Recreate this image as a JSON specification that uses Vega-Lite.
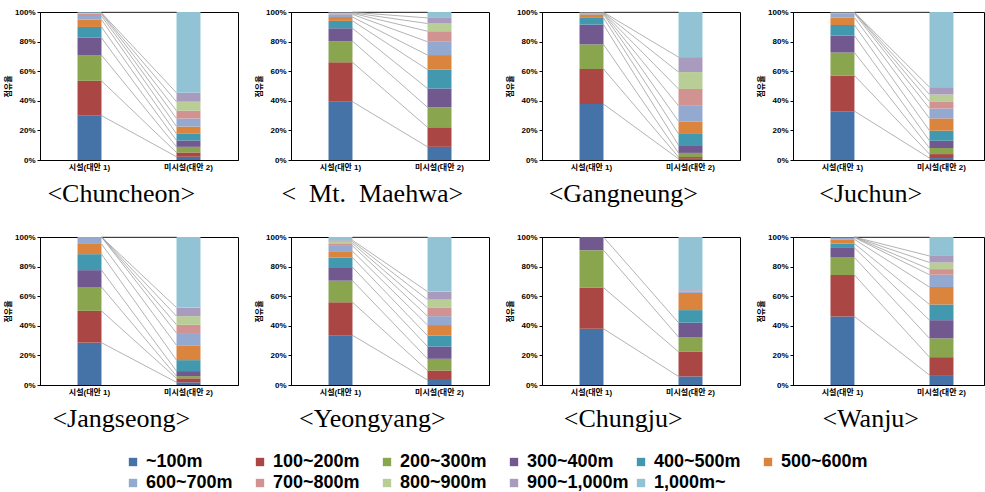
{
"$schema":"https://vega.github.io/schema/vega-lite/v6.json",
"padding":{"left":4,"top":7,"right":0,"bottom":0},
"columns":4,
"align":"each",
"spacing":{"row":24,"column":16},
"data":{"values":[
{"p":"Chuncheon","s":"시설(대안 1)","o":1,"c":"~100m","v":30.0},
{"p":"Chuncheon","s":"시설(대안 1)","o":2,"c":"100~200m","v":23.5},
{"p":"Chuncheon","s":"시설(대안 1)","o":3,"c":"200~300m","v":17.4},
{"p":"Chuncheon","s":"시설(대안 1)","o":4,"c":"300~400m","v":11.7},
{"p":"Chuncheon","s":"시설(대안 1)","o":5,"c":"400~500m","v":7.3},
{"p":"Chuncheon","s":"시설(대안 1)","o":6,"c":"500~600m","v":5.0},
{"p":"Chuncheon","s":"시설(대안 1)","o":7,"c":"600~700m","v":2.4},
{"p":"Chuncheon","s":"시설(대안 1)","o":8,"c":"700~800m","v":1.4},
{"p":"Chuncheon","s":"시설(대안 1)","o":9,"c":"800~900m","v":0.4},
{"p":"Chuncheon","s":"시설(대안 1)","o":10,"c":"900~1,000m","v":0.4},
{"p":"Chuncheon","s":"시설(대안 1)","o":11,"c":"1,000m~","v":0.5},
{"p":"Chuncheon","s":"미시설(대안 2)","o":1,"c":"~100m","v":2.2},
{"p":"Chuncheon","s":"미시설(대안 2)","o":2,"c":"100~200m","v":2.9},
{"p":"Chuncheon","s":"미시설(대안 2)","o":3,"c":"200~300m","v":3.8},
{"p":"Chuncheon","s":"미시설(대안 2)","o":4,"c":"300~400m","v":4.3},
{"p":"Chuncheon","s":"미시설(대안 2)","o":5,"c":"400~500m","v":4.5},
{"p":"Chuncheon","s":"미시설(대안 2)","o":6,"c":"500~600m","v":4.9},
{"p":"Chuncheon","s":"미시설(대안 2)","o":7,"c":"600~700m","v":5.4},
{"p":"Chuncheon","s":"미시설(대안 2)","o":8,"c":"700~800m","v":5.3},
{"p":"Chuncheon","s":"미시설(대안 2)","o":9,"c":"800~900m","v":6.1},
{"p":"Chuncheon","s":"미시설(대안 2)","o":10,"c":"900~1,000m","v":6.0},
{"p":"Chuncheon","s":"미시설(대안 2)","o":11,"c":"1,000m~","v":54.6},
{"p":"Mt. Maehwa","s":"시설(대안 1)","o":1,"c":"~100m","v":39.4},
{"p":"Mt. Maehwa","s":"시설(대안 1)","o":2,"c":"100~200m","v":26.6},
{"p":"Mt. Maehwa","s":"시설(대안 1)","o":3,"c":"200~300m","v":14.3},
{"p":"Mt. Maehwa","s":"시설(대안 1)","o":4,"c":"300~400m","v":8.7},
{"p":"Mt. Maehwa","s":"시설(대안 1)","o":5,"c":"400~500m","v":5.0},
{"p":"Mt. Maehwa","s":"시설(대안 1)","o":6,"c":"500~600m","v":2.6},
{"p":"Mt. Maehwa","s":"시설(대안 1)","o":7,"c":"600~700m","v":1.8},
{"p":"Mt. Maehwa","s":"시설(대안 1)","o":8,"c":"700~800m","v":0.7},
{"p":"Mt. Maehwa","s":"시설(대안 1)","o":9,"c":"800~900m","v":0.4},
{"p":"Mt. Maehwa","s":"시설(대안 1)","o":10,"c":"900~1,000m","v":0.3},
{"p":"Mt. Maehwa","s":"시설(대안 1)","o":11,"c":"1,000m~","v":0.2},
{"p":"Mt. Maehwa","s":"미시설(대안 2)","o":1,"c":"~100m","v":8.9},
{"p":"Mt. Maehwa","s":"미시설(대안 2)","o":2,"c":"100~200m","v":13.2},
{"p":"Mt. Maehwa","s":"미시설(대안 2)","o":3,"c":"200~300m","v":13.5},
{"p":"Mt. Maehwa","s":"미시설(대안 2)","o":4,"c":"300~400m","v":12.7},
{"p":"Mt. Maehwa","s":"미시설(대안 2)","o":5,"c":"400~500m","v":12.8},
{"p":"Mt. Maehwa","s":"미시설(대안 2)","o":6,"c":"500~600m","v":9.8},
{"p":"Mt. Maehwa","s":"미시설(대안 2)","o":7,"c":"600~700m","v":9.0},
{"p":"Mt. Maehwa","s":"미시설(대안 2)","o":8,"c":"700~800m","v":7.1},
{"p":"Mt. Maehwa","s":"미시설(대안 2)","o":9,"c":"800~900m","v":5.2},
{"p":"Mt. Maehwa","s":"미시설(대안 2)","o":10,"c":"900~1,000m","v":3.8},
{"p":"Mt. Maehwa","s":"미시설(대안 2)","o":11,"c":"1,000m~","v":4.0},
{"p":"Gangneung","s":"시설(대안 1)","o":1,"c":"~100m","v":37.8},
{"p":"Gangneung","s":"시설(대안 1)","o":2,"c":"100~200m","v":23.7},
{"p":"Gangneung","s":"시설(대안 1)","o":3,"c":"200~300m","v":16.6},
{"p":"Gangneung","s":"시설(대안 1)","o":4,"c":"300~400m","v":13.4},
{"p":"Gangneung","s":"시설(대안 1)","o":5,"c":"400~500m","v":4.5},
{"p":"Gangneung","s":"시설(대안 1)","o":6,"c":"500~600m","v":2.4},
{"p":"Gangneung","s":"시설(대안 1)","o":7,"c":"600~700m","v":0.7},
{"p":"Gangneung","s":"시설(대안 1)","o":8,"c":"700~800m","v":0.3},
{"p":"Gangneung","s":"시설(대안 1)","o":9,"c":"800~900m","v":0.2},
{"p":"Gangneung","s":"시설(대안 1)","o":10,"c":"900~1,000m","v":0.2},
{"p":"Gangneung","s":"시설(대안 1)","o":11,"c":"1,000m~","v":0.2},
{"p":"Gangneung","s":"미시설(대안 2)","o":1,"c":"~100m","v":0.8},
{"p":"Gangneung","s":"미시설(대안 2)","o":2,"c":"100~200m","v":1.2},
{"p":"Gangneung","s":"미시설(대안 2)","o":3,"c":"200~300m","v":2.8},
{"p":"Gangneung","s":"미시설(대안 2)","o":4,"c":"300~400m","v":5.2},
{"p":"Gangneung","s":"미시설(대안 2)","o":5,"c":"400~500m","v":7.6},
{"p":"Gangneung","s":"미시설(대안 2)","o":6,"c":"500~600m","v":8.5},
{"p":"Gangneung","s":"미시설(대안 2)","o":7,"c":"600~700m","v":10.5},
{"p":"Gangneung","s":"미시설(대안 2)","o":8,"c":"700~800m","v":11.4},
{"p":"Gangneung","s":"미시설(대안 2)","o":9,"c":"800~900m","v":11.4},
{"p":"Gangneung","s":"미시설(대안 2)","o":10,"c":"900~1,000m","v":10.1},
{"p":"Gangneung","s":"미시설(대안 2)","o":11,"c":"1,000m~","v":30.5},
{"p":"Juchun","s":"시설(대안 1)","o":1,"c":"~100m","v":33.0},
{"p":"Juchun","s":"시설(대안 1)","o":2,"c":"100~200m","v":24.1},
{"p":"Juchun","s":"시설(대안 1)","o":3,"c":"200~300m","v":15.5},
{"p":"Juchun","s":"시설(대안 1)","o":4,"c":"300~400m","v":11.4},
{"p":"Juchun","s":"시설(대안 1)","o":5,"c":"400~500m","v":7.2},
{"p":"Juchun","s":"시설(대안 1)","o":6,"c":"500~600m","v":5.0},
{"p":"Juchun","s":"시설(대안 1)","o":7,"c":"600~700m","v":2.7},
{"p":"Juchun","s":"시설(대안 1)","o":8,"c":"700~800m","v":0.7},
{"p":"Juchun","s":"시설(대안 1)","o":9,"c":"800~900m","v":0.1},
{"p":"Juchun","s":"시설(대안 1)","o":10,"c":"900~1,000m","v":0.1},
{"p":"Juchun","s":"시설(대안 1)","o":11,"c":"1,000m~","v":0.2},
{"p":"Juchun","s":"미시설(대안 2)","o":1,"c":"~100m","v":1.3},
{"p":"Juchun","s":"미시설(대안 2)","o":2,"c":"100~200m","v":2.7},
{"p":"Juchun","s":"미시설(대안 2)","o":3,"c":"200~300m","v":4.1},
{"p":"Juchun","s":"미시설(대안 2)","o":4,"c":"300~400m","v":4.9},
{"p":"Juchun","s":"미시설(대안 2)","o":5,"c":"400~500m","v":6.8},
{"p":"Juchun","s":"미시설(대안 2)","o":6,"c":"500~600m","v":8.3},
{"p":"Juchun","s":"미시설(대안 2)","o":7,"c":"600~700m","v":6.7},
{"p":"Juchun","s":"미시설(대안 2)","o":8,"c":"700~800m","v":4.8},
{"p":"Juchun","s":"미시설(대안 2)","o":9,"c":"800~900m","v":4.7},
{"p":"Juchun","s":"미시설(대안 2)","o":10,"c":"900~1,000m","v":4.9},
{"p":"Juchun","s":"미시설(대안 2)","o":11,"c":"1,000m~","v":50.8},
{"p":"Jangseong","s":"시설(대안 1)","o":1,"c":"~100m","v":28.6},
{"p":"Jangseong","s":"시설(대안 1)","o":2,"c":"100~200m","v":21.5},
{"p":"Jangseong","s":"시설(대안 1)","o":3,"c":"200~300m","v":16.1},
{"p":"Jangseong","s":"시설(대안 1)","o":4,"c":"300~400m","v":11.4},
{"p":"Jangseong","s":"시설(대안 1)","o":5,"c":"400~500m","v":10.8},
{"p":"Jangseong","s":"시설(대안 1)","o":6,"c":"500~600m","v":6.9},
{"p":"Jangseong","s":"시설(대안 1)","o":7,"c":"600~700m","v":4.7},
{"p":"Jangseong","s":"시설(대안 1)","o":8,"c":"700~800m","v":0},
{"p":"Jangseong","s":"시설(대안 1)","o":9,"c":"800~900m","v":0},
{"p":"Jangseong","s":"시설(대안 1)","o":10,"c":"900~1,000m","v":0},
{"p":"Jangseong","s":"시설(대안 1)","o":11,"c":"1,000m~","v":0},
{"p":"Jangseong","s":"미시설(대안 2)","o":1,"c":"~100m","v":1.8},
{"p":"Jangseong","s":"미시설(대안 2)","o":2,"c":"100~200m","v":2.7},
{"p":"Jangseong","s":"미시설(대안 2)","o":3,"c":"200~300m","v":1.5},
{"p":"Jangseong","s":"미시설(대안 2)","o":4,"c":"300~400m","v":3.4},
{"p":"Jangseong","s":"미시설(대안 2)","o":5,"c":"400~500m","v":7.4},
{"p":"Jangseong","s":"미시설(대안 2)","o":6,"c":"500~600m","v":10.0},
{"p":"Jangseong","s":"미시설(대안 2)","o":7,"c":"600~700m","v":8.3},
{"p":"Jangseong","s":"미시설(대안 2)","o":8,"c":"700~800m","v":5.6},
{"p":"Jangseong","s":"미시설(대안 2)","o":9,"c":"800~900m","v":5.8},
{"p":"Jangseong","s":"미시설(대안 2)","o":10,"c":"900~1,000m","v":5.8},
{"p":"Jangseong","s":"미시설(대안 2)","o":11,"c":"1,000m~","v":47.7},
{"p":"Yeongyang","s":"시설(대안 1)","o":1,"c":"~100m","v":33.6},
{"p":"Yeongyang","s":"시설(대안 1)","o":2,"c":"100~200m","v":22.3},
{"p":"Yeongyang","s":"시설(대안 1)","o":3,"c":"200~300m","v":14.6},
{"p":"Yeongyang","s":"시설(대안 1)","o":4,"c":"300~400m","v":9.1},
{"p":"Yeongyang","s":"시설(대안 1)","o":5,"c":"400~500m","v":6.5},
{"p":"Yeongyang","s":"시설(대안 1)","o":6,"c":"500~600m","v":4.3},
{"p":"Yeongyang","s":"시설(대안 1)","o":7,"c":"600~700m","v":3.6},
{"p":"Yeongyang","s":"시설(대안 1)","o":8,"c":"700~800m","v":1.7},
{"p":"Yeongyang","s":"시설(대안 1)","o":9,"c":"800~900m","v":1.2},
{"p":"Yeongyang","s":"시설(대안 1)","o":10,"c":"900~1,000m","v":0.9},
{"p":"Yeongyang","s":"시설(대안 1)","o":11,"c":"1,000m~","v":2.2},
{"p":"Yeongyang","s":"미시설(대안 2)","o":1,"c":"~100m","v":3.4},
{"p":"Yeongyang","s":"미시설(대안 2)","o":2,"c":"100~200m","v":6.4},
{"p":"Yeongyang","s":"미시설(대안 2)","o":3,"c":"200~300m","v":7.9},
{"p":"Yeongyang","s":"미시설(대안 2)","o":4,"c":"300~400m","v":8.3},
{"p":"Yeongyang","s":"미시설(대안 2)","o":5,"c":"400~500m","v":7.3},
{"p":"Yeongyang","s":"미시설(대안 2)","o":6,"c":"500~600m","v":7.2},
{"p":"Yeongyang","s":"미시설(대안 2)","o":7,"c":"600~700m","v":6.0},
{"p":"Yeongyang","s":"미시설(대안 2)","o":8,"c":"700~800m","v":5.6},
{"p":"Yeongyang","s":"미시설(대안 2)","o":9,"c":"800~900m","v":5.6},
{"p":"Yeongyang","s":"미시설(대안 2)","o":10,"c":"900~1,000m","v":5.4},
{"p":"Yeongyang","s":"미시설(대안 2)","o":11,"c":"1,000m~","v":36.9},
{"p":"Chungju","s":"시설(대안 1)","o":1,"c":"~100m","v":38.0},
{"p":"Chungju","s":"시설(대안 1)","o":2,"c":"100~200m","v":27.8},
{"p":"Chungju","s":"시설(대안 1)","o":3,"c":"200~300m","v":25.3},
{"p":"Chungju","s":"시설(대안 1)","o":4,"c":"300~400m","v":8.9},
{"p":"Chungju","s":"미시설(대안 2)","o":1,"c":"~100m","v":5.8},
{"p":"Chungju","s":"미시설(대안 2)","o":2,"c":"100~200m","v":16.6},
{"p":"Chungju","s":"미시설(대안 2)","o":3,"c":"200~300m","v":10.0},
{"p":"Chungju","s":"미시설(대안 2)","o":4,"c":"300~400m","v":9.7},
{"p":"Chungju","s":"미시설(대안 2)","o":5,"c":"400~500m","v":8.5},
{"p":"Chungju","s":"미시설(대안 2)","o":6,"c":"500~600m","v":11.6},
{"p":"Chungju","s":"미시설(대안 2)","o":7,"c":"600~700m","v":1.0},
{"p":"Chungju","s":"미시설(대안 2)","o":8,"c":"700~800m","v":0.3},
{"p":"Chungju","s":"미시설(대안 2)","o":9,"c":"800~900m","v":0.2},
{"p":"Chungju","s":"미시설(대안 2)","o":10,"c":"900~1,000m","v":0.5},
{"p":"Chungju","s":"미시설(대안 2)","o":11,"c":"1,000m~","v":35.8},
{"p":"Wanju","s":"시설(대안 1)","o":1,"c":"~100m","v":46.3},
{"p":"Wanju","s":"시설(대안 1)","o":2,"c":"100~200m","v":28.0},
{"p":"Wanju","s":"시설(대안 1)","o":3,"c":"200~300m","v":11.8},
{"p":"Wanju","s":"시설(대안 1)","o":4,"c":"300~400m","v":6.5},
{"p":"Wanju","s":"시설(대안 1)","o":5,"c":"400~500m","v":2.9},
{"p":"Wanju","s":"시설(대안 1)","o":6,"c":"500~600m","v":2.9},
{"p":"Wanju","s":"시설(대안 1)","o":7,"c":"600~700m","v":1.2},
{"p":"Wanju","s":"시설(대안 1)","o":8,"c":"700~800m","v":0.2},
{"p":"Wanju","s":"시설(대안 1)","o":9,"c":"800~900m","v":0.1},
{"p":"Wanju","s":"시설(대안 1)","o":10,"c":"900~1,000m","v":0.05},
{"p":"Wanju","s":"시설(대안 1)","o":11,"c":"1,000m~","v":0.05},
{"p":"Wanju","s":"미시설(대안 2)","o":1,"c":"~100m","v":6.7},
{"p":"Wanju","s":"미시설(대안 2)","o":2,"c":"100~200m","v":12.1},
{"p":"Wanju","s":"미시설(대안 2)","o":3,"c":"200~300m","v":12.7},
{"p":"Wanju","s":"미시설(대안 2)","o":4,"c":"300~400m","v":12.3},
{"p":"Wanju","s":"미시설(대안 2)","o":5,"c":"400~500m","v":10.6},
{"p":"Wanju","s":"미시설(대안 2)","o":6,"c":"500~600m","v":11.8},
{"p":"Wanju","s":"미시설(대안 2)","o":7,"c":"600~700m","v":8.3},
{"p":"Wanju","s":"미시설(대안 2)","o":8,"c":"700~800m","v":3.8},
{"p":"Wanju","s":"미시설(대안 2)","o":9,"c":"800~900m","v":4.5},
{"p":"Wanju","s":"미시설(대안 2)","o":10,"c":"900~1,000m","v":4.4},
{"p":"Wanju","s":"미시설(대안 2)","o":11,"c":"1,000m~","v":12.8}
]},
"concat":[
{"title":"<Chuncheon>","transform":[{"filter":"datum.p==='Chuncheon'"}],"width":198,"height":148,
"layer":[
{"transform":[{"window":[{"op":"sum","field":"v","as":"cum"}],"groupby":["s"],"sort":[{"field":"o","order":"ascending"}]},{"pivot":"s","value":"cum","groupby":["o"]},{"filter":"isValid(datum['시설(대안 1)']) && isValid(datum['미시설(대안 2)'])"}],
"mark":{"type":"rule","color":"#a0a0a0","strokeWidth":0.8},
"encoding":{"x":{"datum":"시설(대안 1)","type":"nominal","bandPosition":1,"scale":{"domain":["시설(대안 1)","미시설(대안 2)"],"paddingInner":0.758,"paddingOuter":0.379},"title":null},"x2":{"datum":"미시설(대안 2)","bandPosition":0},"y":{"field":"시설(대안 1)","type":"quantitative","scale":{"domain":[0,100]},"title":"점유율","axis":{"values":[0,20,40,60,80,100],"labelExpr":"datum.value + '%'"}},"y2":{"field":"미시설(대안 2)"}}},
{"mark":{"type":"bar"},
"encoding":{"x":{"field":"s","type":"nominal","scale":{"domain":["시설(대안 1)","미시설(대안 2)"],"paddingInner":0.758,"paddingOuter":0.379},"title":null},"y":{"field":"v","type":"quantitative","stack":"zero","scale":{"domain":[0,100]},"title":"점유율","axis":{"values":[0,20,40,60,80,100],"labelExpr":"datum.value + '%'"}},"color":{"field":"c","type":"nominal","scale":{"domain":["~100m","100~200m","200~300m","300~400m","400~500m","500~600m","600~700m","700~800m","800~900m","900~1,000m","1,000m~"],"range":["#4572A7","#AA4643","#89A54E","#71588F","#4198AF","#DB843D","#93A9CF","#D19392","#B9CD96","#A99BBD","#92C3D5"]},"legend":{"title":null}},"order":{"field":"o","type":"quantitative"}}}
]},
{"title":"<\u00a0\u00a0Mt.\u00a0\u00a0Maehwa>","transform":[{"filter":"datum.p==='Mt. Maehwa'"}],"width":198,"height":148,
"layer":[
{"transform":[{"window":[{"op":"sum","field":"v","as":"cum"}],"groupby":["s"],"sort":[{"field":"o","order":"ascending"}]},{"pivot":"s","value":"cum","groupby":["o"]},{"filter":"isValid(datum['시설(대안 1)']) && isValid(datum['미시설(대안 2)'])"}],
"mark":{"type":"rule","color":"#a0a0a0","strokeWidth":0.8},
"encoding":{"x":{"datum":"시설(대안 1)","type":"nominal","bandPosition":1,"scale":{"domain":["시설(대안 1)","미시설(대안 2)"],"paddingInner":0.758,"paddingOuter":0.379},"title":null},"x2":{"datum":"미시설(대안 2)","bandPosition":0},"y":{"field":"시설(대안 1)","type":"quantitative","scale":{"domain":[0,100]},"title":"점유율","axis":{"values":[0,20,40,60,80,100],"labelExpr":"datum.value + '%'"}},"y2":{"field":"미시설(대안 2)"}}},
{"mark":{"type":"bar"},
"encoding":{"x":{"field":"s","type":"nominal","scale":{"domain":["시설(대안 1)","미시설(대안 2)"],"paddingInner":0.758,"paddingOuter":0.379},"title":null},"y":{"field":"v","type":"quantitative","stack":"zero","scale":{"domain":[0,100]},"title":"점유율","axis":{"values":[0,20,40,60,80,100],"labelExpr":"datum.value + '%'"}},"color":{"field":"c","type":"nominal","legend":{"title":null}},"order":{"field":"o","type":"quantitative"}}}
]},
{"title":"<Gangneung>","transform":[{"filter":"datum.p==='Gangneung'"}],"width":198,"height":148,
"layer":[
{"transform":[{"window":[{"op":"sum","field":"v","as":"cum"}],"groupby":["s"],"sort":[{"field":"o","order":"ascending"}]},{"pivot":"s","value":"cum","groupby":["o"]},{"filter":"isValid(datum['시설(대안 1)']) && isValid(datum['미시설(대안 2)'])"}],
"mark":{"type":"rule","color":"#a0a0a0","strokeWidth":0.8},
"encoding":{"x":{"datum":"시설(대안 1)","type":"nominal","bandPosition":1,"scale":{"domain":["시설(대안 1)","미시설(대안 2)"],"paddingInner":0.758,"paddingOuter":0.379},"title":null},"x2":{"datum":"미시설(대안 2)","bandPosition":0},"y":{"field":"시설(대안 1)","type":"quantitative","scale":{"domain":[0,100]},"title":"점유율","axis":{"values":[0,20,40,60,80,100],"labelExpr":"datum.value + '%'"}},"y2":{"field":"미시설(대안 2)"}}},
{"mark":{"type":"bar"},
"encoding":{"x":{"field":"s","type":"nominal","scale":{"domain":["시설(대안 1)","미시설(대안 2)"],"paddingInner":0.758,"paddingOuter":0.379},"title":null},"y":{"field":"v","type":"quantitative","stack":"zero","scale":{"domain":[0,100]},"title":"점유율","axis":{"values":[0,20,40,60,80,100],"labelExpr":"datum.value + '%'"}},"color":{"field":"c","type":"nominal","legend":{"title":null}},"order":{"field":"o","type":"quantitative"}}}
]},
{"title":"<Juchun>","transform":[{"filter":"datum.p==='Juchun'"}],"width":191,"height":148,
"layer":[
{"transform":[{"window":[{"op":"sum","field":"v","as":"cum"}],"groupby":["s"],"sort":[{"field":"o","order":"ascending"}]},{"pivot":"s","value":"cum","groupby":["o"]},{"filter":"isValid(datum['시설(대안 1)']) && isValid(datum['미시설(대안 2)'])"}],
"mark":{"type":"rule","color":"#a0a0a0","strokeWidth":0.8},
"encoding":{"x":{"datum":"시설(대안 1)","type":"nominal","bandPosition":1,"scale":{"domain":["시설(대안 1)","미시설(대안 2)"],"paddingInner":0.758,"paddingOuter":0.3434,"align":0.551},"title":null},"x2":{"datum":"미시설(대안 2)","bandPosition":0},"y":{"field":"시설(대안 1)","type":"quantitative","scale":{"domain":[0,100]},"title":"점유율","axis":{"values":[0,20,40,60,80,100],"labelExpr":"datum.value + '%'"}},"y2":{"field":"미시설(대안 2)"}}},
{"mark":{"type":"bar"},
"encoding":{"x":{"field":"s","type":"nominal","scale":{"domain":["시설(대안 1)","미시설(대안 2)"],"paddingInner":0.758,"paddingOuter":0.3434,"align":0.551},"title":null},"y":{"field":"v","type":"quantitative","stack":"zero","scale":{"domain":[0,100]},"title":"점유율","axis":{"values":[0,20,40,60,80,100],"labelExpr":"datum.value + '%'"}},"color":{"field":"c","type":"nominal","legend":{"title":null}},"order":{"field":"o","type":"quantitative"}}}
]},
{"title":"<Jangseong>","transform":[{"filter":"datum.p==='Jangseong'"}],"width":198,"height":148,
"layer":[
{"transform":[{"window":[{"op":"sum","field":"v","as":"cum"}],"groupby":["s"],"sort":[{"field":"o","order":"ascending"}]},{"pivot":"s","value":"cum","groupby":["o"]},{"filter":"isValid(datum['시설(대안 1)']) && isValid(datum['미시설(대안 2)'])"}],
"mark":{"type":"rule","color":"#a0a0a0","strokeWidth":0.8},
"encoding":{"x":{"datum":"시설(대안 1)","type":"nominal","bandPosition":1,"scale":{"domain":["시설(대안 1)","미시설(대안 2)"],"paddingInner":0.758,"paddingOuter":0.379},"title":null},"x2":{"datum":"미시설(대안 2)","bandPosition":0},"y":{"field":"시설(대안 1)","type":"quantitative","scale":{"domain":[0,100]},"title":"점유율","axis":{"values":[0,20,40,60,80,100],"labelExpr":"datum.value + '%'"}},"y2":{"field":"미시설(대안 2)"}}},
{"mark":{"type":"bar"},
"encoding":{"x":{"field":"s","type":"nominal","scale":{"domain":["시설(대안 1)","미시설(대안 2)"],"paddingInner":0.758,"paddingOuter":0.379},"title":null},"y":{"field":"v","type":"quantitative","stack":"zero","scale":{"domain":[0,100]},"title":"점유율","axis":{"values":[0,20,40,60,80,100],"labelExpr":"datum.value + '%'"}},"color":{"field":"c","type":"nominal","legend":{"title":null}},"order":{"field":"o","type":"quantitative"}}}
]},
{"title":"<Yeongyang>","transform":[{"filter":"datum.p==='Yeongyang'"}],"width":198,"height":148,
"layer":[
{"transform":[{"window":[{"op":"sum","field":"v","as":"cum"}],"groupby":["s"],"sort":[{"field":"o","order":"ascending"}]},{"pivot":"s","value":"cum","groupby":["o"]},{"filter":"isValid(datum['시설(대안 1)']) && isValid(datum['미시설(대안 2)'])"}],
"mark":{"type":"rule","color":"#a0a0a0","strokeWidth":0.8},
"encoding":{"x":{"datum":"시설(대안 1)","type":"nominal","bandPosition":1,"scale":{"domain":["시설(대안 1)","미시설(대안 2)"],"paddingInner":0.758,"paddingOuter":0.379},"title":null},"x2":{"datum":"미시설(대안 2)","bandPosition":0},"y":{"field":"시설(대안 1)","type":"quantitative","scale":{"domain":[0,100]},"title":"점유율","axis":{"values":[0,20,40,60,80,100],"labelExpr":"datum.value + '%'"}},"y2":{"field":"미시설(대안 2)"}}},
{"mark":{"type":"bar"},
"encoding":{"x":{"field":"s","type":"nominal","scale":{"domain":["시설(대안 1)","미시설(대안 2)"],"paddingInner":0.758,"paddingOuter":0.379},"title":null},"y":{"field":"v","type":"quantitative","stack":"zero","scale":{"domain":[0,100]},"title":"점유율","axis":{"values":[0,20,40,60,80,100],"labelExpr":"datum.value + '%'"}},"color":{"field":"c","type":"nominal","legend":{"title":null}},"order":{"field":"o","type":"quantitative"}}}
]},
{"title":"<Chungju>","transform":[{"filter":"datum.p==='Chungju'"}],"width":198,"height":148,
"layer":[
{"transform":[{"window":[{"op":"sum","field":"v","as":"cum"}],"groupby":["s"],"sort":[{"field":"o","order":"ascending"}]},{"pivot":"s","value":"cum","groupby":["o"]},{"filter":"isValid(datum['시설(대안 1)']) && isValid(datum['미시설(대안 2)'])"}],
"mark":{"type":"rule","color":"#a0a0a0","strokeWidth":0.8},
"encoding":{"x":{"datum":"시설(대안 1)","type":"nominal","bandPosition":1,"scale":{"domain":["시설(대안 1)","미시설(대안 2)"],"paddingInner":0.758,"paddingOuter":0.379},"title":null},"x2":{"datum":"미시설(대안 2)","bandPosition":0},"y":{"field":"시설(대안 1)","type":"quantitative","scale":{"domain":[0,100]},"title":"점유율","axis":{"values":[0,20,40,60,80,100],"labelExpr":"datum.value + '%'"}},"y2":{"field":"미시설(대안 2)"}}},
{"mark":{"type":"bar"},
"encoding":{"x":{"field":"s","type":"nominal","scale":{"domain":["시설(대안 1)","미시설(대안 2)"],"paddingInner":0.758,"paddingOuter":0.379},"title":null},"y":{"field":"v","type":"quantitative","stack":"zero","scale":{"domain":[0,100]},"title":"점유율","axis":{"values":[0,20,40,60,80,100],"labelExpr":"datum.value + '%'"}},"color":{"field":"c","type":"nominal","legend":{"title":null}},"order":{"field":"o","type":"quantitative"}}}
]},
{"title":"<Wanju>","transform":[{"filter":"datum.p==='Wanju'"}],"width":191,"height":148,
"layer":[
{"transform":[{"window":[{"op":"sum","field":"v","as":"cum"}],"groupby":["s"],"sort":[{"field":"o","order":"ascending"}]},{"pivot":"s","value":"cum","groupby":["o"]},{"filter":"isValid(datum['시설(대안 1)']) && isValid(datum['미시설(대안 2)'])"}],
"mark":{"type":"rule","color":"#a0a0a0","strokeWidth":0.8},
"encoding":{"x":{"datum":"시설(대안 1)","type":"nominal","bandPosition":1,"scale":{"domain":["시설(대안 1)","미시설(대안 2)"],"paddingInner":0.758,"paddingOuter":0.3434,"align":0.551},"title":null},"x2":{"datum":"미시설(대안 2)","bandPosition":0},"y":{"field":"시설(대안 1)","type":"quantitative","scale":{"domain":[0,100]},"title":"점유율","axis":{"values":[0,20,40,60,80,100],"labelExpr":"datum.value + '%'"}},"y2":{"field":"미시설(대안 2)"}}},
{"mark":{"type":"bar"},
"encoding":{"x":{"field":"s","type":"nominal","scale":{"domain":["시설(대안 1)","미시설(대안 2)"],"paddingInner":0.758,"paddingOuter":0.3434,"align":0.551},"title":null},"y":{"field":"v","type":"quantitative","stack":"zero","scale":{"domain":[0,100]},"title":"점유율","axis":{"values":[0,20,40,60,80,100],"labelExpr":"datum.value + '%'"}},"color":{"field":"c","type":"nominal","legend":{"title":null}},"order":{"field":"o","type":"quantitative"}}}
]}
],
"config":{
"background":"#ffffff",
"view":{"stroke":"#000000","strokeWidth":1},
"axis":{"labelFont":"Liberation Sans, Noto Sans CJK KR","labelFontSize":8,"labelFontWeight":"bold","labelColor":"#000000","domainColor":"#000000","tickColor":"#000000","grid":false,"titleFont":"Noto Sans CJK KR","titleFontSize":8,"titleFontWeight":"bold","titleColor":"#000000"},
"axisX":{"ticks":false,"labelAngle":0,"labelPadding":3},
"axisY":{"tickSize":3,"titlePadding":2,"labelPadding":2},
"title":{"orient":"bottom","frame":"bounds","anchor":"middle","font":"Liberation Serif","fontSize":26,"fontWeight":"normal","color":"#000000","offset":10},
"legend":{"orient":"none","legendX":84,"legendY":441,"direction":"horizontal","columns":6,"symbolType":"square","symbolSize":70,"symbolStrokeWidth":0,"labelFontSize":18,"labelFont":"Liberation Sans","labelFontWeight":"bold","labelColor":"#000000","gridAlign":"all","columnPadding":3,"rowPadding":3,"labelOffset":4}
}
}
